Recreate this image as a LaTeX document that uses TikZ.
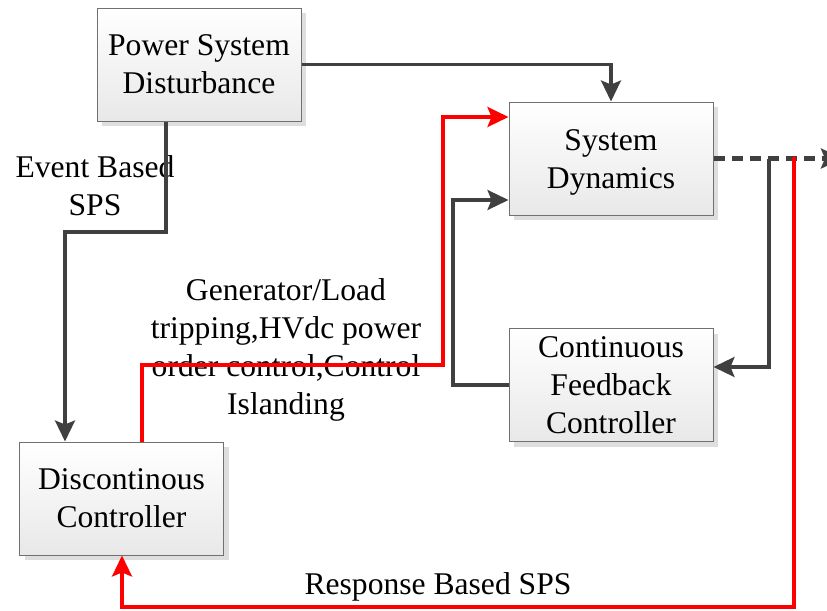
\documentclass[tikz,border=0pt]{standalone}
\usepackage{fontspec}
\setmainfont{Liberation Serif}
\usetikzlibrary{arrows.meta,shadows,calc}
\definecolor{lgray}{HTML}{404040}
\definecolor{bord}{HTML}{707070}
\tikzset{
  blockbox/.style={draw=bord, line width=0.5pt, top color=white, bottom color=black!9,
    minimum width=102pt, minimum height=56.5pt, align=center, inner sep=2pt,
    font=\fontsize{15.8}{19}\selectfont,
    drop shadow={shadow xshift=2.5pt, shadow yshift=-2.5pt, fill=black!13, opacity=1}},
  garrow/.style={draw=lgray, line width=1.6pt, -{Stealth[length=10.5pt,width=10pt,inset=2pt]}},
  rarrow/.style={draw=red, line width=1.6pt, -{Stealth[length=10.5pt,width=10pt,inset=2pt]}},
  darrow/.style={draw=lgray, line width=2.6pt, dash pattern=on 5.5pt off 3.5pt, -{Stealth[length=10.5pt,width=10pt,inset=2pt]}},
  lbl/.style={align=center, inner sep=0pt, font=\fontsize{15.8}{19}\selectfont}
}
\begin{document}
\begin{tikzpicture}[x=0.5pt,y=-0.5pt]
\useasboundingbox (0,0) rectangle (827,611);
\node[blockbox] (PSD) at (199,64.5) {Power System\\Disturbance};
\node[blockbox] (SD) at (611,158.5) {};
\node[lbl] (SDt) at (611,162.5) {System\\Dynamics};
\node[blockbox] (CFC) at (611,385) {Continuous\\Feedback\\Controller};
\node[blockbox] (DC) at (121.5,498.5) {Discontinous\\Controller};
% labels (under the connectors)
\node[lbl] (l1) at (95,185.5) {Event Based\\SPS};
\node[lbl] (l2) at (286,349.5) {Generator/Load\\tripping,HVdc power\\order control,Control\\Islanding};
\node[lbl] (l3) at (438,587) {Response Based SPS};
% coordinates
\coordinate (c1) at (166,232);
\coordinate (c2) at (65,232);
\coordinate (r1) at (142,365);
\coordinate (r2) at (443,365);
\coordinate (r3) at (443,117);
\coordinate (g2) at (453,200);
\coordinate (dend) at (842,158.5);
\coordinate (f1) at (769,158.5);
\coordinate (f2) at (769,367);
\coordinate (e1) at (794,157);
\coordinate (e2) at (794,607);
\coordinate (e3) at (122,607);
% connectors
\draw[garrow] (PSD.east) -| (SD.north);
\draw[garrow] (PSD.south -| c1) -- (c1) -- (c2) -- (DC.north -| c2);
\draw[garrow] (CFC.west) -- (CFC.west -| g2) -- (g2) -- (SD.west |- g2);
\draw[darrow] (SD.east) -- (dend);
\draw[garrow] (f1) -- (f2) -- (CFC.east |- f2);
\draw[rarrow] (DC.north -| r1) -- (r1) -- (r2) -- (r3) -- (SD.west |- r3);
\draw[rarrow] (e1) -- (e2) -- (e3) -- (DC.south -| e3);
\end{tikzpicture}
\end{document}
